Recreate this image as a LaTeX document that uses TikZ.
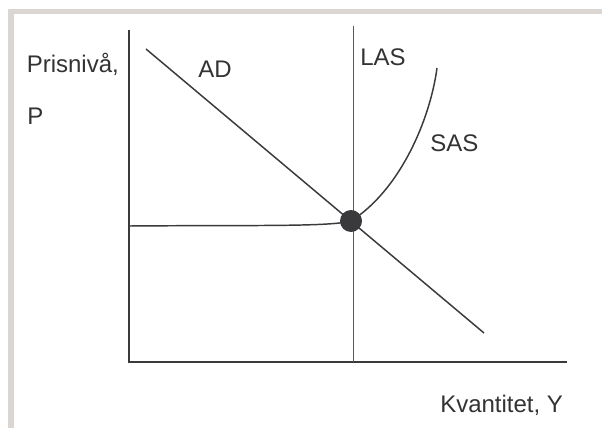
\documentclass[tikz,border=0pt]{standalone}
\usepackage{fontspec}
\setmainfont{Liberation Sans}
\definecolor{txt}{HTML}{333333}
\definecolor{ln}{HTML}{3A3A3C}
\definecolor{frame}{HTML}{DCD6D2}
\begin{document}
\begin{tikzpicture}[x=0.75pt,y=-0.75pt,
  lbl/.style={anchor=base west,inner sep=0pt,text=txt,font=\fontsize{18}{21}\selectfont},
  axisline/.style={draw=ln,line width=1.5pt},
  curveline/.style={draw=ln,line width=1.1pt},
  thinline/.style={draw=ln!85,line width=0.75pt}]
\useasboundingbox (0,0) rectangle (602,428);
\fill[white] (0,0) rectangle (602,428);
\fill[frame] (8,9) rectangle (602,14);
\fill[frame] (8,9) rectangle (14,428);
% axes
\coordinate (ytop) at (129,30);
\coordinate (orig) at (129,362);
\coordinate (xend) at (567,362);
\draw[axisline] (ytop) -- (orig) -- (xend);
% LAS
\coordinate (lastop) at (353,26);
\coordinate (lasbot) at (353,362);
\draw[thinline] (lastop) -- (lasbot);
% AD
\coordinate (adtop) at (146,49);
\coordinate (adbot) at (484,333);
\draw[curveline] (adtop) -- (adbot);
% SAS
\coordinate (sasstart) at (129,226);
\coordinate (eqp) at (351,221);
\coordinate (sastop) at (437,68);
\draw[curveline] (sasstart) .. controls (250,225) and (330,227) .. (eqp)
  .. controls (400,190) and (430,120) .. (sastop);
\node[circle,fill=ln,inner sep=0pt,minimum size=16.5] (eq) at (eqp) {};
% labels
\node[lbl] (prisniva) at (26.5,73) {Prisnivå,};
\node[lbl] (p) at (27,124) {P};
\node[lbl] (ad) at (198,78) {AD};
\node[lbl] (las) at (360,65) {LAS};
\node[lbl] (sas) at (430,151) {SAS};
\node[lbl] (kv) at (440,412) {Kvantitet, Y};
\end{tikzpicture}
\end{document}
